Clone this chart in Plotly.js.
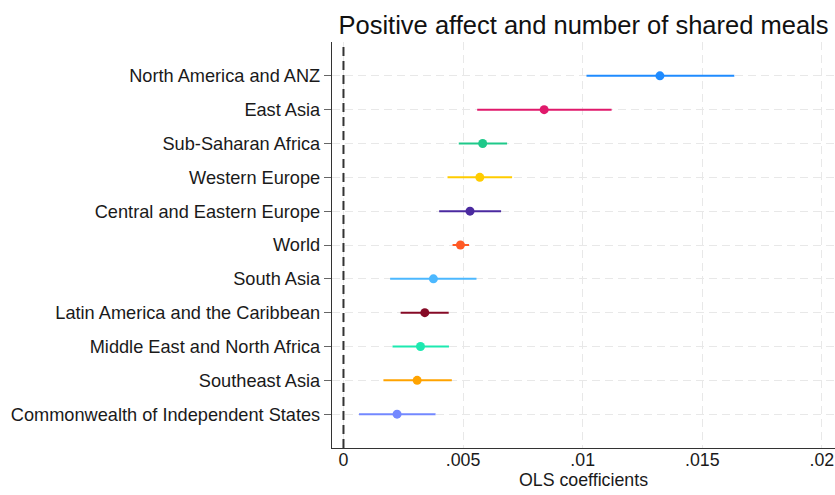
<!DOCTYPE html>
<html>
<head>
<meta charset="utf-8">
<script src="https://cdn.plot.ly/plotly-3.0.1.min.js"></script>
<style>
  html, body { margin: 0; padding: 0; background: #ffffff; }
  #chart { width: 835px; height: 495px; }
</style>
</head>
<body>
<div id="chart"></div>
<script>
// Regions, top to bottom
const regions = [
  "North America and ANZ",
  "East Asia",
  "Sub-Saharan Africa",
  "Western Europe",
  "Central and Eastern Europe",
  "World",
  "South Asia",
  "Latin America and the Caribbean",
  "Middle East and North Africa",
  "Southeast Asia",
  "Commonwealth of Independent States"
];

// OLS point estimates and confidence bounds
const coef  = [0.01323, 0.00839, 0.00582, 0.00570, 0.00529, 0.00489, 0.00376, 0.00340, 0.00322, 0.00308, 0.00224];
const lower = [0.01016, 0.00559, 0.00482, 0.00435, 0.00400, 0.00456, 0.00195, 0.00239, 0.00205, 0.00167, 0.00065];
const upper = [0.01634, 0.01121, 0.00684, 0.00705, 0.00659, 0.00525, 0.00556, 0.00440, 0.00441, 0.00453, 0.00385];

const colors = [
  "#1f8bff", "#e0196b", "#1fc98a", "#ffcc00", "#4b2aa0", "#ff5a26",
  "#4cb8ff", "#860a26", "#1de9b0", "#ffa300", "#7388ff"
];

const xTickVals = [0, 0.005, 0.01, 0.015, 0.02];
const xTickText = ["0", ".005", ".01", ".015", ".02"];

const FONT = "Liberation Sans, Arial, Helvetica, sans-serif";

const traces = regions.map((name, i) => ({
  type: "scatter",
  mode: "markers",
  name: name,
  x: [coef[i]],
  y: [name],
  marker: { color: colors[i], size: 9 },
  error_x: {
    type: "data",
    symmetric: false,
    array: [upper[i] - coef[i]],
    arrayminus: [coef[i] - lower[i]],
    color: colors[i],
    thickness: 2,
    width: 0
  },
  hoverinfo: "x+y"
}));

const layout = {
  width: 835,
  height: 495,
  margin: { l: 332, r: 0, t: 42, b: 47 },
  paper_bgcolor: "#ffffff",
  plot_bgcolor: "#ffffff",
  showlegend: false,
  font: { family: FONT, color: "#1a1a1a" },
  title: {
    text: "Positive affect and number of shared meals",
    font: { family: FONT, size: 25.5, color: "#111111" },
    xref: "paper", x: 0.5, xanchor: "center",
    yref: "container", y: 1 - 25 / 495, yanchor: "middle"
  },
  xaxis: {
    range: [-0.00048, 0.02055],
    tickvals: xTickVals,
    ticktext: xTickText,
    tickfont: { family: FONT, size: 17.8, color: "#1a1a1a" },
    ticks: "",
    ticklabelstandoff: -5,
    showgrid: true,
    gridcolor: "#e8e8e8",
    gridwidth: 1.3,
    griddash: "8px,5px",
    zeroline: false,
    showline: true,
    linecolor: "#333333",
    linewidth: 1.3,
    title: {
      text: "OLS coefficients",
      font: { family: FONT, size: 17.8, color: "#1a1a1a" },
      standoff: 0
    }
  },
  yaxis: {
    type: "category",
    categoryorder: "array",
    categoryarray: regions,
    range: [11, -1],
    tickfont: { family: FONT, size: 18.2, color: "#1a1a1a" },
    ticks: "outside",
    ticklen: 7,
    tickcolor: "#666666",
    tickwidth: 1,
    showgrid: true,
    gridcolor: "#e8e8e8",
    gridwidth: 1.3,
    griddash: "8px,5px",
    zeroline: false,
    showline: true,
    linecolor: "#333333",
    linewidth: 1.3
  },
  shapes: [{
    // reference line at a zero coefficient
    type: "line",
    xref: "x", yref: "paper",
    x0: 0, x1: 0, y0: 0, y1: 1,
    line: { color: "#333333", width: 2, dash: "9px,5px" },
    layer: "above"
  }]
};

Plotly.newPlot("chart", traces, layout, { displayModeBar: false, responsive: false });
</script>
</body>
</html>
